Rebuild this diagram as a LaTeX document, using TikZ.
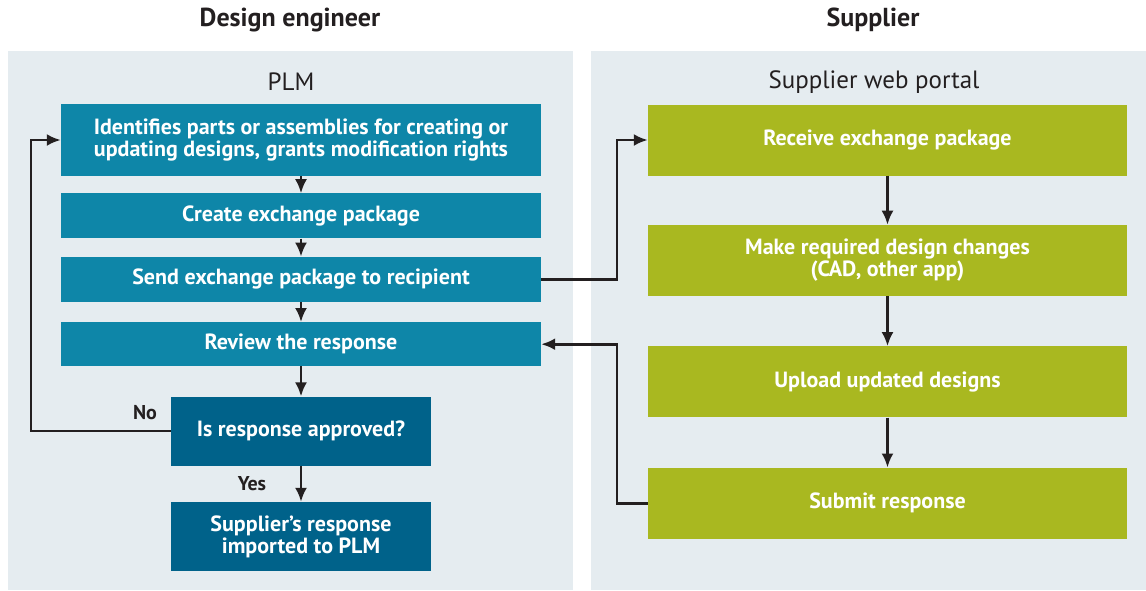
\documentclass[tikz,border=0pt]{standalone}
\usepackage{fontspec}
\setmainfont{PT Sans}
\usetikzlibrary{positioning,arrows.meta}
\definecolor{plmblue}{HTML}{0E86A8}
\definecolor{plmdark}{HTML}{00628A}
\definecolor{portalgreen}{HTML}{A9B820}
\definecolor{lanebg}{HTML}{E5ECF0}
\definecolor{inkgray}{HTML}{231F20}

\begin{document}
\begin{tikzpicture}[x=1pt,y=-1pt]
\tikzstyle{lane}=[fill=lanebg, draw=none]
\tikzstyle{blk}=[rectangle, inner sep=0pt, text=white, align=center,
  font=\bfseries\fontsize{22}{22}\selectfont]
\tikzstyle{plmbox}=[blk, fill=plmblue, minimum width=480pt]
\tikzstyle{decbox}=[blk, fill=plmdark, minimum width=260pt, minimum height=69pt]
\tikzstyle{webbox}=[blk, fill=portalgreen, minimum width=479pt, minimum height=71pt]
\tikzstyle{connect}=[-{Latex[length=14pt,width=12pt]}, line width=2.6pt, draw=inkgray]
\tikzstyle{title}=[text=inkgray, font=\bfseries\fontsize{26}{30}\selectfont]
\tikzstyle{sub}=[text=inkgray, font=\fontsize{25}{30}\selectfont]
\tikzstyle{lbl}=[text=inkgray, font=\bfseries\fontsize{20}{24}\selectfont]

\useasboundingbox (0,0) rectangle (1146,590);
% 1. Lanes
%%%%%%%%%%
\fill[lane] (8,51) rectangle (573,590);
\fill[lane] (591,51) rectangle (1146,590);
\node[title] (engineer) at (290,20) {Design engineer};
\node[title] (supplier) at (873,20) {Supplier};
\node[sub] (plm) at (291,82) {PLM};
\node[sub] (portal) at (874,82) {Supplier web portal};

% 2. Nodes
%%%%%%%%%%
\node[plmbox, minimum height=72pt] (identify) at (301,140)
  {Identifies parts or assemblies for creating or\\updating designs, grants modification rights};
\node[plmbox, minimum height=45pt] (create) [below=17pt of identify] {Create exchange package};
\node[plmbox, minimum height=45pt] (send) [below=18pt of create] {Send exchange package to recipient};
\node[plmbox, minimum height=44pt] (review) [below=20pt of send] {Review the response};
\node[decbox] (approved) [below=30pt of review] {Is response approved?};
\node[decbox] (imported) [below=36pt of approved] {Supplier’s response\\imported to PLM};

\node[webbox] (receive) at (887.5,140) {Receive exchange package};
\node[webbox] (changes) [below=49pt of receive] {Make required design changes\\(CAD, other app)};
\node[webbox] (upload) [below=50pt of changes] {Upload updated designs};
\node[webbox] (submit) [below=50pt of upload] {Submit response};

\node[lbl] (no) at (145,413) {No};
\node[lbl] (yes) at (252,484) {Yes};

% 3. Arrows
%%%%%%%%%%%
\path (identify) edge [connect] (create)
      (create)   edge [connect] (send)
      (send)     edge [connect] (review)
      (review)   edge [connect] (approved)
      (approved) edge [connect] (imported)
      (receive)  edge [connect] (changes)
      (changes)  edge [connect] (upload)
      (upload)   edge [connect] (submit);
\draw[connect] (approved.west) -| ([xshift=-30pt]identify.west) -- (identify.west);
\draw[connect] (send.east) -| ([xshift=-31pt]receive.west) -- (receive.west);
\draw[connect] (submit.west) -- ++(-31,0) |- (review.east);
\end{tikzpicture}
\end{document}
